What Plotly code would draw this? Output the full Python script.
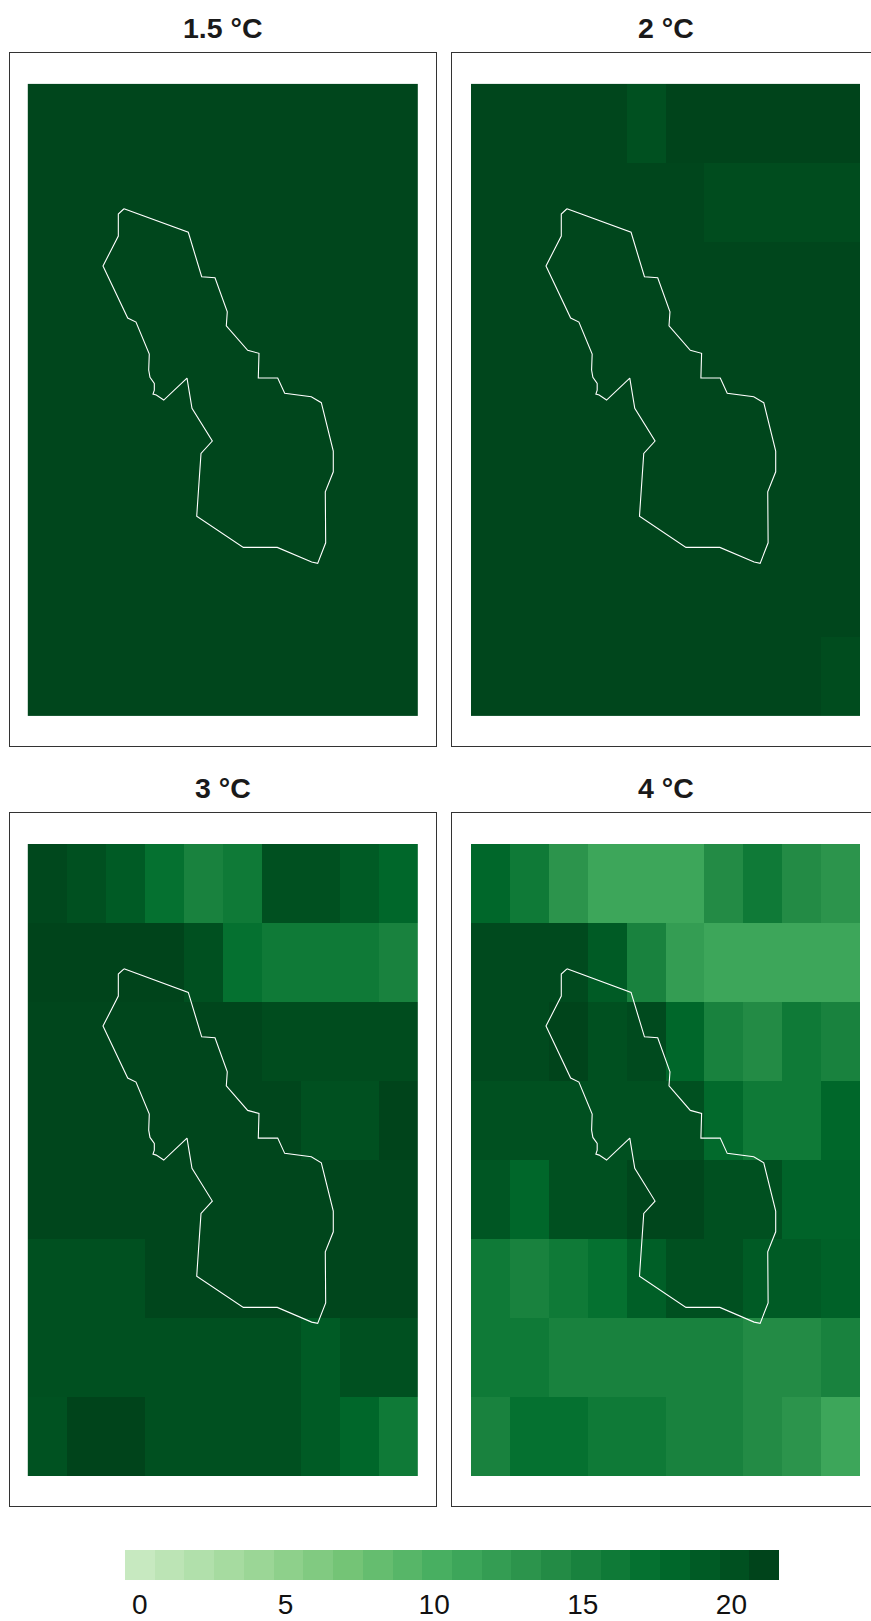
import plotly.graph_objects as go

W, H = 871, 1621

panel_titles = ["1.5 °C", "2 °C", "3 °C", "4 °C"]
legend_values = list(range(22))
legend_ticks = [0, 5, 10, 15, 20]
legend_tick_positions = [0, 4.9, 9.9, 14.9, 19.9]
legend_colors = ["#C7E9C0", "#BCE4B5", "#B1E0AB", "#A6DBA0", "#9BD696", "#8ED08B",
                 "#81CA81", "#74C476", "#65BD6F", "#57B668", "#48AF61", "#3DA65A",
                 "#349D53", "#2C944C", "#238B45", "#19823E", "#0F7A37", "#057130",
                 "#00672A", "#005B25", "#005020", "#00441B"]

grid_15 = [[20.8] * 10 for _ in range(8)]
grid_2 = [
    [20.8, 20.8, 20.8, 20.8, 20, 21, 21, 21, 21, 21],
    [20.8, 20.8, 20.8, 20.8, 20.8, 20.8, 20.3, 20.3, 20.3, 20.3],
    [20.8, 20.8, 20.8, 20.8, 20.8, 20.8, 20.8, 20.8, 20.8, 20.8],
    [20.8, 20.8, 20.8, 20.8, 20.8, 20.8, 20.8, 20.8, 20.8, 20.8],
    [20.8, 20.8, 20.8, 20.8, 20.8, 20.8, 20.8, 20.8, 20.8, 20.8],
    [20.8, 20.8, 20.8, 20.8, 20.8, 20.8, 20.8, 20.8, 20.8, 20.8],
    [20.8, 20.8, 20.8, 20.8, 20.8, 20.8, 20.8, 20.8, 20.8, 20.8],
    [20.8, 20.8, 20.8, 20.8, 20.8, 20.8, 20.8, 20.8, 20.8, 20.3],
]
grid_3 = [
    [20.7, 20, 19, 17, 15, 16, 20, 20, 19, 18],
    [21, 21, 21, 21, 20, 17, 16, 16, 16, 15],
    [20.8, 20.8, 20.8, 20.8, 20.8, 20.8, 20.3, 20.3, 20.3, 20.3],
    [20.8, 20.8, 20.8, 20.8, 20.8, 20.8, 20.8, 20, 20, 21],
    [20.8, 20.8, 20.8, 20.8, 20.8, 20.8, 20.8, 20.8, 20.8, 20.8],
    [20, 20, 20, 20.8, 20.8, 20.8, 20.8, 20.8, 20.8, 20.8],
    [20, 20, 20, 20, 20, 20, 20, 19, 20, 20],
    [19.8, 21, 21, 20, 20, 20, 20, 19, 18, 16],
]
grid_4 = [
    [18, 16, 13, 11, 11, 11, 14, 16, 14, 13],
    [20.5, 20.5, 20.5, 19, 15, 12, 11, 11, 11, 11],
    [20.5, 20.5, 21, 20, 20.5, 18, 15, 14, 16, 15],
    [20, 20, 20, 20, 20, 20, 17.7, 16, 16, 18],
    [19.5, 18, 20, 20, 20.8, 20.8, 20, 20, 18.3, 18.3],
    [16, 15, 16, 17, 18.7, 20, 20, 19, 19, 18.5],
    [16, 16, 15, 15, 15, 15, 15, 14, 14, 15],
    [15, 17, 17, 16, 16, 15, 15, 14, 13, 11],
]
panel_grids = [grid_15, grid_2, grid_3, grid_4]

boundary_x = [2.467, 4.115, 4.459, 4.800, 5.115, 5.090, 5.638, 5.928, 5.910, 6.408,
              6.587, 7.269, 7.526, 7.833, 7.833, 7.628, 7.638, 7.433, 7.279, 6.397,
              5.526, 4.331, 4.441, 4.731, 4.210, 4.082, 3.485, 3.295, 3.210, 3.244,
              3.244, 3.133, 3.100, 3.115, 2.774, 2.562, 1.928, 2.321, 2.321, 2.467]
boundary_y = [1.580, 1.878, 2.441, 2.453, 2.884, 3.061, 3.372, 3.410, 3.723, 3.723,
              3.916, 3.959, 4.035, 4.647, 4.909, 5.162, 5.808, 6.068, 6.052, 5.866,
              5.866, 5.470, 4.676, 4.520, 4.106, 3.723, 4.001, 3.938, 3.925, 3.875,
              3.790, 3.714, 3.622, 3.419, 3.014, 2.963, 2.305, 1.925, 1.647, 1.580]

FRAME = "#333333"
colorscale = [[i / 21, c] for i, c in enumerate(legend_colors)]

# frame (px): left, right, top, bottom ; heat (px): left, right, top, bottom
layouts = [
    ((10.0, 436.2, 53.3, 746.3), (27.8, 417.8, 83.9, 716.0)),
    ((452.2, 871.0, 53.3, 746.3), (471.0, 860.0, 83.9, 716.0)),
    ((10.0, 436.2, 813.3, 1505.8), (27.8, 417.8, 844.0, 1476.0)),
    ((452.2, 871.0, 813.3, 1505.8), (471.0, 860.0, 844.0, 1476.0)),
]

fig = go.Figure()
annotations = []
for k, (grid, title, (frame, heat)) in enumerate(zip(panel_grids, panel_titles, layouts), start=1):
    xa = "x" if k == 1 else f"x{k}"
    ya = "y" if k == 1 else f"y{k}"
    fl, fr, ft, fb = frame
    hl, hr, ht, hb = heat
    ux = (hr - hl) / 10
    uy = (hb - ht) / 8
    fig.add_trace(go.Heatmap(z=grid, x=list(range(10)), y=list(range(8)), xaxis=xa, yaxis=ya,
                             colorscale=colorscale, zmin=0, zmax=21, showscale=False,
                             hoverinfo="skip", xgap=0, ygap=0))
    fig.add_trace(go.Scatter(x=[v - 0.5 for v in boundary_x], y=[v - 0.5 for v in boundary_y],
                             xaxis=xa, yaxis=ya, mode="lines", hoverinfo="skip", showlegend=False,
                             line=dict(color="white", width=1.1)))
    open_right = fr >= W
    ax_x = dict(domain=[fl / W, fr / W],
                range=[-0.5 - (hl - fl) / ux, 9.5 + (fr - hr) / ux],
                showgrid=False, zeroline=False, showticklabels=False, ticks="",
                showline=True, linecolor=FRAME, linewidth=1.3, mirror=True)
    ax_y = dict(domain=[1 - fb / H, 1 - ft / H],
                range=[7.5 + (fb - hb) / uy, -0.5 - (ht - ft) / uy],
                showgrid=False, zeroline=False, showticklabels=False, ticks="",
                showline=True, linecolor=FRAME, linewidth=1.3, mirror=not open_right)
    fig.update_layout({("xaxis" if k == 1 else f"xaxis{k}"): dict(ax_x, anchor=ya),
                       ("yaxis" if k == 1 else f"yaxis{k}"): dict(ax_y, anchor=xa)})
    annotations.append(dict(text=f"<b>{title}</b>", xref="paper", yref="paper",
                            x=(fl + 213.3) / W, y=1 - (ft - 25) / H,
                            xanchor="center", yanchor="middle", showarrow=False,
                            font=dict(size=28.5, color="#1a1a1a", family="Liberation Sans")))

fig.add_trace(go.Heatmap(z=[legend_values], x=legend_values, y=[0], xaxis="x5", yaxis="y5",
                         colorscale=colorscale, zmin=0, zmax=21, showscale=False, hoverinfo="skip"))
fig.update_layout(
    xaxis5=dict(domain=[125 / W, 779 / W], range=[-0.5, 21.5], anchor="y5", tickmode="array",
                tickvals=legend_tick_positions, ticktext=[str(v) for v in legend_ticks],
                ticks="", ticklabelstandoff=5, showgrid=False, zeroline=False,
                showline=False, automargin=False,
                tickfont=dict(size=28, color="#111111", family="Liberation Sans")),
    yaxis5=dict(domain=[1 - 1580 / H, 1 - 1550 / H], range=[-0.5, 0.5], anchor="x5", visible=False),
    width=W, height=H, margin=dict(l=0, r=0, t=0, b=0, autoexpand=False),
    paper_bgcolor="white", plot_bgcolor="white", showlegend=False, annotations=annotations,
)

fig.write_html("out.html", config=dict(displayModeBar=False),
               post_script="document.body.style.margin='0';")
